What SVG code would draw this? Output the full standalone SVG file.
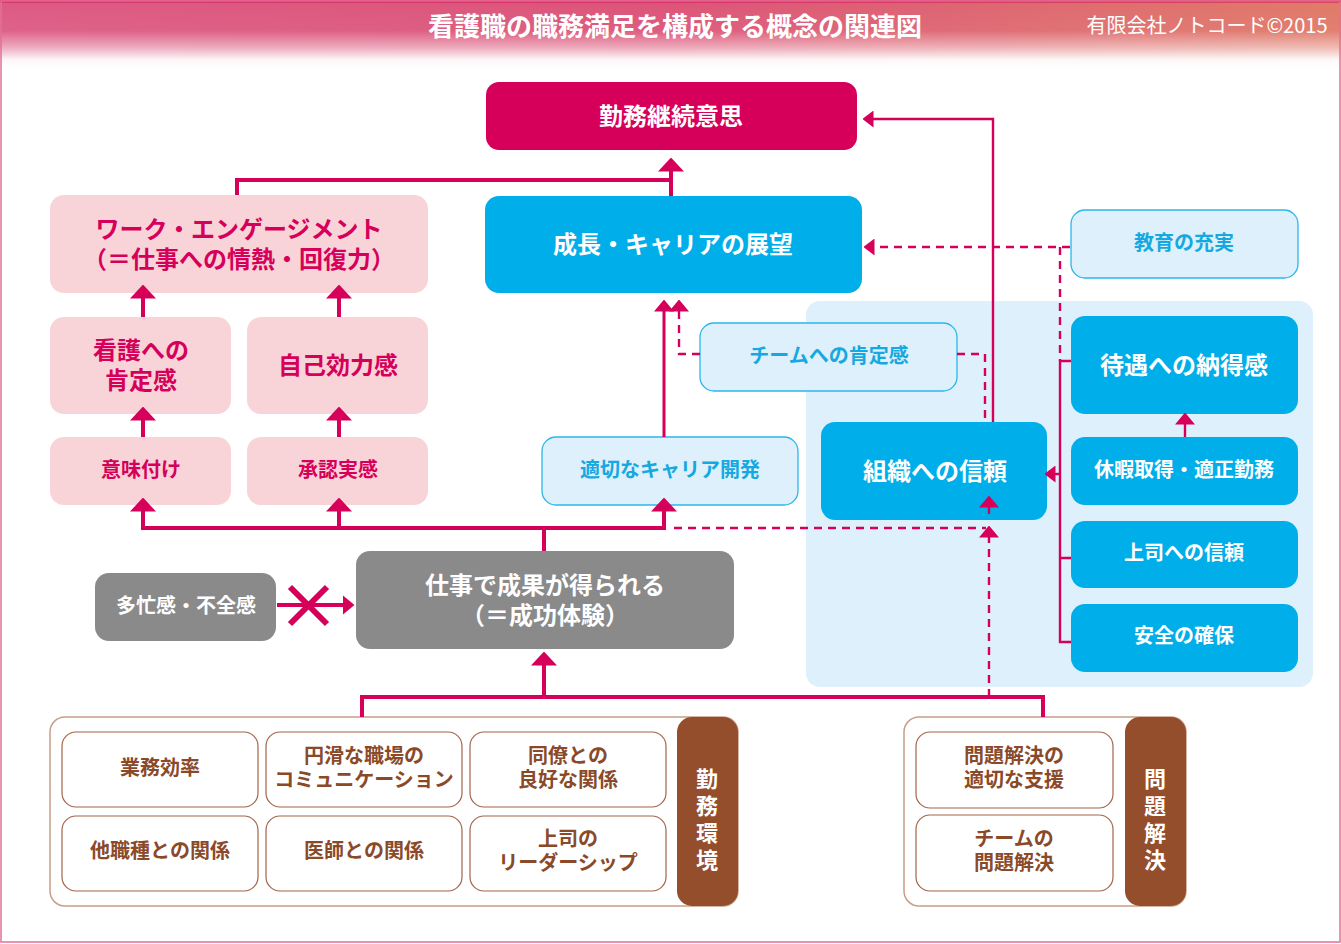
<svg xmlns="http://www.w3.org/2000/svg" width="1341" height="944" viewBox="0 0 1341 944">
<defs>
<linearGradient id="hdrH" x1="0" y1="0" x2="1" y2="0">
<stop offset="0" stop-color="#dc5a84"/>
<stop offset="0.5" stop-color="#dc5478"/>
<stop offset="1" stop-color="#e07a68"/>
</linearGradient>
<linearGradient id="hdrV" x1="0" y1="0" x2="0" y2="1">
<stop offset="0" stop-color="#ffffff" stop-opacity="0"/>
<stop offset="0.45" stop-color="#ffffff" stop-opacity="0.05"/>
<stop offset="0.7" stop-color="#ffffff" stop-opacity="0.5"/>
<stop offset="0.88" stop-color="#ffffff" stop-opacity="0.95"/>
<stop offset="1" stop-color="#ffffff" stop-opacity="1"/>
</linearGradient>
<marker id="A1" viewBox="0 0 14 26" markerWidth="14" markerHeight="26" refX="0.5" refY="13" orient="auto" markerUnits="userSpaceOnUse"><path d="M0,0 L14,13 L0,26 z" fill="#d6005a"/></marker>
<marker id="A2" viewBox="0 0 12 20" markerWidth="12" markerHeight="20" refX="0.5" refY="10" orient="auto" markerUnits="userSpaceOnUse"><path d="M0,0 L12,10 L0,20 z" fill="#d6005a"/></marker>
<marker id="A3" viewBox="0 0 11 17" markerWidth="11" markerHeight="17" refX="0.5" refY="8.5" orient="auto" markerUnits="userSpaceOnUse"><path d="M0,0 L11,8.5 L0,17 z" fill="#d6005a"/></marker>
</defs>
<style>
text{font-family:"Noto Sans CJK JP","Noto Sans",sans-serif;font-weight:bold;text-anchor:middle;dominant-baseline:central}
.L{font-size:24px}
.S{font-size:20px}
.V{font-size:22px}
.wt{fill:#ffffff}
.pt{fill:#d6005a}
.ct{fill:#16a8e0}
.bt{fill:#8a4a2a}
.crim{fill:#d6005a}
.cyan{fill:#00aeea}
.pink{fill:#f8d4d9}
.lb{fill:#ddf0fb;stroke:#2bb6ea;stroke-width:1.3}
.gray{fill:#8a8a8a}
.cont{fill:#ffffff;stroke:#c89e88;stroke-width:1.5}
.tab{fill:#944e2c}
.inner{fill:#ffffff;stroke:#a2654a;stroke-width:1.2}
.c{fill:none;stroke:#d6005a}
.w4{stroke-width:4}
.w3{stroke-width:3}
.w2{stroke-width:2.4}
.d{stroke-dasharray:8 6}
</style>
<!-- header -->
<rect x="0" y="0" width="1341" height="68" fill="url(#hdrH)"/>
<rect x="0" y="0" width="1341" height="68" fill="url(#hdrV)"/>
<line x1="0" y1="1.5" x2="1341" y2="1.5" stroke="#d4145a" stroke-width="2"/>
<rect x="1" y="1" width="1339" height="941" fill="none" stroke="#e27097" stroke-width="1.5"/>
<text x="675" y="24" class="wt" style="font-size:26px">看護職の職務満足を構成する概念の関連図</text>
<text x="1207" y="24" class="wt" style="font-size:20px;font-weight:normal">有限会社ノトコード©2015</text>

<!-- background panel -->
<rect id="panel" x="806" y="301" width="507" height="386" rx="14" fill="#ddf0fb"/>

<g id="n-kinmu-keizoku"><rect x="486" y="82" width="371" height="68" rx="13" class="crim"/><text x="671" y="114" class="L wt">勤務継続意思</text></g>
<g id="n-work-engagement"><rect x="50" y="195" width="378" height="98" rx="14" class="pink"/><text class="L pt"><tspan x="239" y="227">ワーク・エンゲージメント</tspan><tspan x="239" y="257">（＝仕事への情熱・回復力）</tspan></text></g>
<g id="n-kango-kotei"><rect x="50" y="317" width="181" height="97" rx="14" class="pink"/><text class="L pt"><tspan x="141" y="348">看護への</tspan><tspan x="141" y="378">肯定感</tspan></text></g>
<g id="n-jiko-koryoku"><rect x="247" y="317" width="181" height="97" rx="14" class="pink"/><text x="338" y="363" class="L pt">自己効力感</text></g>
<g id="n-imizuke"><rect x="50" y="437" width="181" height="68" rx="14" class="pink"/><text x="141" y="468" class="S pt">意味付け</text></g>
<g id="n-shonin"><rect x="247" y="437" width="181" height="68" rx="14" class="pink"/><text x="338" y="468" class="S pt">承認実感</text></g>
<g id="n-seicho"><rect x="485" y="196" width="377" height="97" rx="14" class="cyan"/><text x="673" y="242" class="L wt">成長・キャリアの展望</text></g>
<g id="n-kyoiku"><rect x="1071" y="210" width="227" height="68" rx="14" class="lb"/><text x="1184" y="241" class="S ct">教育の充実</text></g>
<g id="n-team"><rect x="700" y="323" width="257" height="68" rx="14" class="lb"/><text x="829" y="354" class="S ct">チームへの肯定感</text></g>
<g id="n-career"><rect x="542" y="437" width="256" height="68" rx="14" class="lb"/><text x="670" y="468" class="S ct">適切なキャリア開発</text></g>
<g id="n-soshiki"><rect x="821" y="422" width="226" height="98" rx="14" class="cyan"/><text x="935" y="469" class="L wt">組織への信頼</text></g>
<g id="n-taigu"><rect x="1071" y="316" width="227" height="98" rx="14" class="cyan"/><text x="1184" y="363" class="L wt">待遇への納得感</text></g>
<g id="n-kyuka"><rect x="1071" y="437" width="227" height="68" rx="14" class="cyan"/><text x="1184" y="468" class="S wt">休暇取得・適正勤務</text></g>
<g id="n-joshi-shinrai"><rect x="1071" y="521" width="227" height="67" rx="14" class="cyan"/><text x="1184" y="551" class="S wt">上司への信頼</text></g>
<g id="n-anzen"><rect x="1071" y="604" width="227" height="68" rx="14" class="cyan"/><text x="1184" y="634" class="S wt">安全の確保</text></g>
<g id="n-taboukan"><rect x="95" y="573" width="181" height="68" rx="14" class="gray"/><text x="186" y="604" class="S wt">多忙感・不全感</text></g>
<g id="n-seika"><rect x="356" y="551" width="378" height="98" rx="14" class="gray"/><text class="L wt"><tspan x="545" y="583">仕事で成果が得られる</tspan><tspan x="545" y="613">（＝成功体験）</tspan></text></g>

<g id="g-kinmu-kankyo">
<rect x="50" y="717" width="688" height="189" rx="15" class="cont"/>
<rect x="677" y="717" width="61" height="189" rx="15" class="tab"/>
<text class="V wt"><tspan x="707" y="777">勤</tspan><tspan x="707" y="804">務</tspan><tspan x="707" y="831">環</tspan><tspan x="707" y="858">境</tspan></text>
</g>
<g id="n-gyomu"><rect x="62" y="732" width="196" height="75" rx="14" class="inner"/><text x="160" y="766" class="S bt">業務効率</text></g>
<g id="n-comm"><rect x="266" y="732" width="196" height="75" rx="14" class="inner"/><text class="S bt"><tspan x="364" y="754">円滑な職場の</tspan><tspan x="364" y="778">コミュニケーション</tspan></text></g>
<g id="n-doryo"><rect x="470" y="732" width="196" height="75" rx="14" class="inner"/><text class="S bt"><tspan x="568" y="754">同僚との</tspan><tspan x="568" y="778">良好な関係</tspan></text></g>
<g id="n-tashokushu"><rect x="62" y="816" width="196" height="75" rx="14" class="inner"/><text x="160" y="849" class="S bt">他職種との関係</text></g>
<g id="n-ishi"><rect x="266" y="816" width="196" height="75" rx="14" class="inner"/><text x="364" y="849" class="S bt">医師との関係</text></g>
<g id="n-leader"><rect x="470" y="816" width="196" height="75" rx="14" class="inner"/><text class="S bt"><tspan x="568" y="837">上司の</tspan><tspan x="568" y="861">リーダーシップ</tspan></text></g>

<g id="g-mondai">
<rect x="904" y="717" width="282" height="189" rx="15" class="cont"/>
<rect x="1125" y="717" width="61" height="189" rx="15" class="tab"/>
<text class="V wt"><tspan x="1155" y="777">問</tspan><tspan x="1155" y="804">題</tspan><tspan x="1155" y="831">解</tspan><tspan x="1155" y="858">決</tspan></text>
</g>
<g id="n-shien"><rect x="916" y="732" width="197" height="76" rx="14" class="inner"/><text class="S bt"><tspan x="1014" y="754">問題解決の</tspan><tspan x="1014" y="778">適切な支援</tspan></text></g>
<g id="n-team-mondai"><rect x="916" y="815" width="197" height="76" rx="14" class="inner"/><text class="S bt"><tspan x="1014" y="837">チームの</tspan><tspan x="1014" y="861">問題解決</tspan></text></g>

<g id="connectors">
<path class="c w4" d="M237,195 V180 H671"/>
<path class="c w4" d="M671,196 V171" marker-end="url(#A1)"/>
<path class="c w2" d="M993,422 V119 H873" marker-end="url(#A3)"/>
<path class="c w2 d" d="M1070,247 H874" marker-end="url(#A3)"/>
<path class="c w2 d" d="M1060,247 V361"/>
<path class="c w2" d="M1071,361 H1060 V642 H1071 M1060,558 H1071"/>
<path class="c w2" d="M1060,474 H1055" marker-end="url(#A3)"/>
<path class="c w2" d="M1185,437 V424" marker-end="url(#A2)"/>
<path class="c w3" d="M664,437 V311" marker-end="url(#A2)"/>
<path class="c w2 d" d="M700,354 H679 V311" marker-end="url(#A2)"/>
<path class="c w2 d" d="M957,354 H985 V421"/>
<path class="c w4" d="M544,551 V528 M141,528 H666"/>
<path class="c w4" d="M143,528 V511" marker-end="url(#A1)"/>
<path class="c w4" d="M339,528 V511" marker-end="url(#A1)"/>
<path class="c w4" d="M664,528 V511" marker-end="url(#A1)"/>
<path class="c w4" d="M143,437 V420" marker-end="url(#A1)"/>
<path class="c w4" d="M339,437 V420" marker-end="url(#A1)"/>
<path class="c w4" d="M143,317 V298" marker-end="url(#A1)"/>
<path class="c w4" d="M339,317 V298" marker-end="url(#A1)"/>
<path class="c w2 d" d="M674,528 H986"/>
<path class="c w2 d" d="M989,697 V537" marker-end="url(#A2)"/>
<path class="c w2" d="M989,514 V507" marker-end="url(#A2)"/>
<path class="c w4" d="M362,717 V697 H1043 V717"/>
<path class="c w4" d="M544,697 V665" marker-end="url(#A1)"/>
<path class="c w4" d="M277,605 H343" marker-end="url(#A2)"/>
<path class="c" stroke-width="6" d="M290,587 L327,624 M290,624 L327,587"/>
</g>
</svg>
